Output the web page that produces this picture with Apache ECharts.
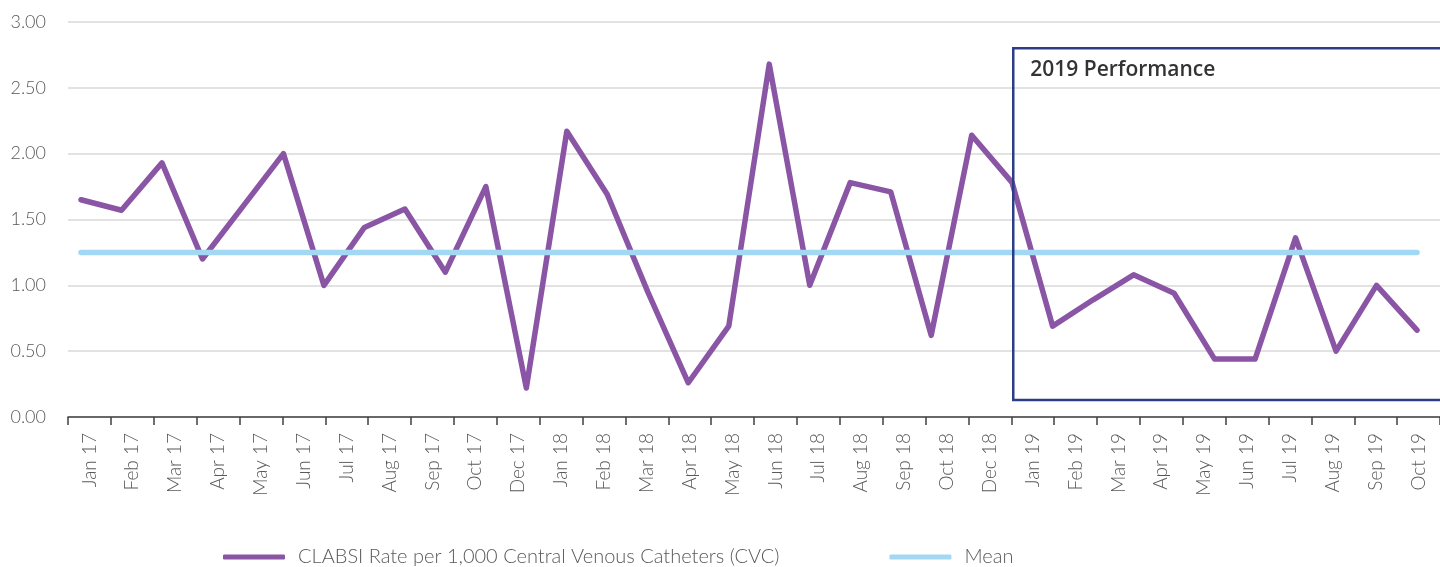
<!DOCTYPE html>
<html>
<head>
<meta charset="utf-8">
<script src="https://cdn.jsdelivr.net/npm/echarts@6/dist/echarts.min.js"></script>
<style>
  html, body { margin: 0; padding: 0; background: #ffffff; }
  #chart { width: 1440px; height: 567px; }
</style>
</head>
<body>
<div id="chart"></div>
<script>
// Axis labels as printed on the reference (Nov 17 and Nov 18 are absent)
const axisLabels = ['Jan 17','Feb 17','Mar 17','Apr 17','May 17','Jun 17','Jul 17','Aug 17','Sep 17','Oct 17','Dec 17',
  'Jan 18','Feb 18','Mar 18','Apr 18','May 18','Jun 18','Jul 18','Aug 18','Sep 18','Oct 18','Dec 18',
  'Jan 19','Feb 19','Mar 19','Apr 19','May 19','Jun 19','Jul 19','Aug 19','Sep 19','Oct 19'];

// Monthly points of the plotted line (34 months)
const months = ['Jan 17','Feb 17','Mar 17','Apr 17','May 17','Jun 17','Jul 17','Aug 17','Sep 17','Oct 17','Nov 17','Dec 17',
  'Jan 18','Feb 18','Mar 18','Apr 18','May 18','Jun 18','Jul 18','Aug 18','Sep 18','Oct 18','Nov 18','Dec 18',
  'Jan 19','Feb 19','Mar 19','Apr 19','May 19','Jun 19','Jul 19','Aug 19','Sep 19','Oct 19'];

const clabsiRate = [1.65, 1.57, 1.93, 1.20, 1.60, 2.00, 1.00, 1.44, 1.58, 1.10, 1.75, 0.22,
  2.17, 1.69, 0.95, 0.26, 0.69, 2.68, 1.00, 1.78, 1.71, 0.62, 2.14, 1.78,
  0.69, 0.89, 1.08, 0.94, 0.44, 0.44, 1.36, 0.50, 1.00, 0.66];

const meanRate = [1.25, 1.25, 1.25, 1.25, 1.25, 1.25, 1.25, 1.25, 1.25, 1.25, 1.25, 1.25,
  1.25, 1.25, 1.25, 1.25, 1.25, 1.25, 1.25, 1.25, 1.25, 1.25, 1.25, 1.25,
  1.25, 1.25, 1.25, 1.25, 1.25, 1.25, 1.25, 1.25, 1.25, 1.25];

const yTicks = { min: 0, max: 3, interval: 0.5 };
const perfBox = { startLabel: 'Jan 19', top: 2.80, bottom: 0.13, title: '2019 Performance' };

const seriesNames = ['CLABSI Rate per 1,000 Central Venous Catheters (CVC)', 'Mean'];

const chart = echarts.init(document.getElementById('chart'), null, { renderer: 'canvas' });
const labelFont = { fontFamily: 'Lato', fontWeight: 300, fontSize: 18, color: '#595959' };

const option = {
  animation: false,
  backgroundColor: '#ffffff',
  grid: [
    { left: 68, top: 22, width: 1376, height: 395, containLabel: false },
    { left: 81, top: 22, width: 1336, height: 395, containLabel: false }
  ],
  xAxis: [
    {
      type: 'category', gridIndex: 0, data: axisLabels, boundaryGap: true,
      axisLine: { show: true, lineStyle: { color: '#404040', width: 1.5 } },
      axisTick: { show: true, length: 8, lineStyle: { color: '#404040', width: 1.5 } },
      axisLabel: Object.assign({}, labelFont, { rotate: 90, margin: 16, interval: 0, fontSize: 19 }),
      splitLine: { show: false }
    },
    {
      type: 'category', gridIndex: 1, data: months, boundaryGap: false, show: false
    }
  ],
  yAxis: [
    {
      type: 'value', gridIndex: 0, min: yTicks.min, max: yTicks.max, interval: yTicks.interval,
      axisLine: { show: false }, axisTick: { show: false },
      axisLabel: Object.assign({ margin: 22, formatter: v => v.toFixed(2) }, labelFont),
      splitLine: { show: true, lineStyle: { color: '#d9d9d9', width: 1.5 } }
    },
    {
      type: 'value', gridIndex: 1, min: yTicks.min, max: yTicks.max, show: false
    }
  ],
  legend: {
    left: 223, bottom: 0, padding: 0, itemGap: 110, itemWidth: 62, itemHeight: 5,
    icon: 'roundRect',
    data: seriesNames,
    textStyle: { fontFamily: 'Lato', fontWeight: 300, fontSize: 20, color: '#595959', padding: [0, 0, 0, 8] }
  },
  series: [
    {
      name: seriesNames[0], type: 'line', xAxisIndex: 1, yAxisIndex: 1,
      data: clabsiRate, symbol: 'none', showSymbol: false,
      lineStyle: { color: '#8a55a4', width: 5.5, cap: 'round', join: 'round' },
      itemStyle: { color: '#8a55a4' }
    },
    {
      name: seriesNames[1], type: 'line', xAxisIndex: 1, yAxisIndex: 1,
      data: meanRate, symbol: 'none', showSymbol: false,
      lineStyle: { color: '#a3d8f4', width: 5.5, cap: 'round', join: 'round' },
      itemStyle: { color: '#a3d8f4' }
    }
  ]
};

chart.setOption(option);

// Performance box anchored to the axis through the chart's own scales
const idx = axisLabels.indexOf(perfBox.startLabel);
const c0 = chart.convertToPixel({ xAxisIndex: 0 }, axisLabels[idx]);
const c1 = chart.convertToPixel({ xAxisIndex: 0 }, axisLabels[idx + 1]);
const boxLeft = c0 - (c1 - c0) / 2 + 2;
const boxTop = chart.convertToPixel({ yAxisIndex: 0 }, perfBox.top);
const boxBottom = chart.convertToPixel({ yAxisIndex: 0 }, perfBox.bottom);

chart.setOption({
  graphic: [
    {
      type: 'rect', z: 100,
      shape: { x: boxLeft, y: boxTop, width: 1470 - boxLeft, height: boxBottom - boxTop },
      style: { fill: 'transparent', stroke: '#2b3d86', lineWidth: 2.5 }
    },
    {
      type: 'text', z: 101, x: boxLeft + 17, y: boxTop + 22,
      style: { text: perfBox.title, font: '600 21px "Open Sans"', fill: '#333333',
               verticalAlign: 'middle', textVerticalAlign: 'middle', align: 'left' }
    }
  ]
});
</script>
</body>
</html>
